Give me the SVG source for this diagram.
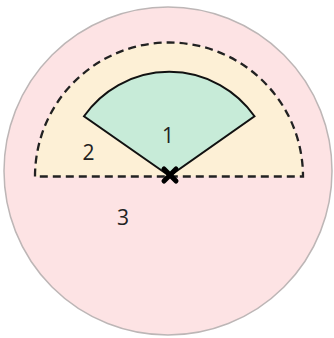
<svg xmlns="http://www.w3.org/2000/svg" width="334" height="338" viewBox="0 0 334 338">
<style>
.lbl{font-family:"Open Sans","Liberation Sans",sans-serif;font-size:21px;fill:#222;text-anchor:middle}
.dash{fill:#fdf0d6;stroke:#222;stroke-width:2.3;stroke-dasharray:8 5}
</style>
<rect width="334" height="338" fill="#ffffff"/>
<g id="region3">
<circle cx="168" cy="171" r="164" fill="#fde3e4" stroke="#bdb6b6" stroke-width="1.5"/>
<text class="lbl" x="123" y="225">3</text>
</g>
<g id="region2">
<path class="dash" d="M35,176.5 A134,134 0 0 1 303,176.5 Z"/>
<text class="lbl" x="88.5" y="160">2</text>
</g>
<g id="region1">
<path d="M169.5,176 L84,116.3 A104,104 0 0 1 254.5,116.3 Z" fill="#c7ebd8" stroke="#111" stroke-width="2" stroke-linejoin="miter"/>
<text class="lbl" x="168" y="143">1</text>
</g>
<g id="origin">
<path d="M164,169 L176,181 M176,169 L164,181" stroke="#000" stroke-width="5" stroke-linecap="round"/>
</g>
</svg>
